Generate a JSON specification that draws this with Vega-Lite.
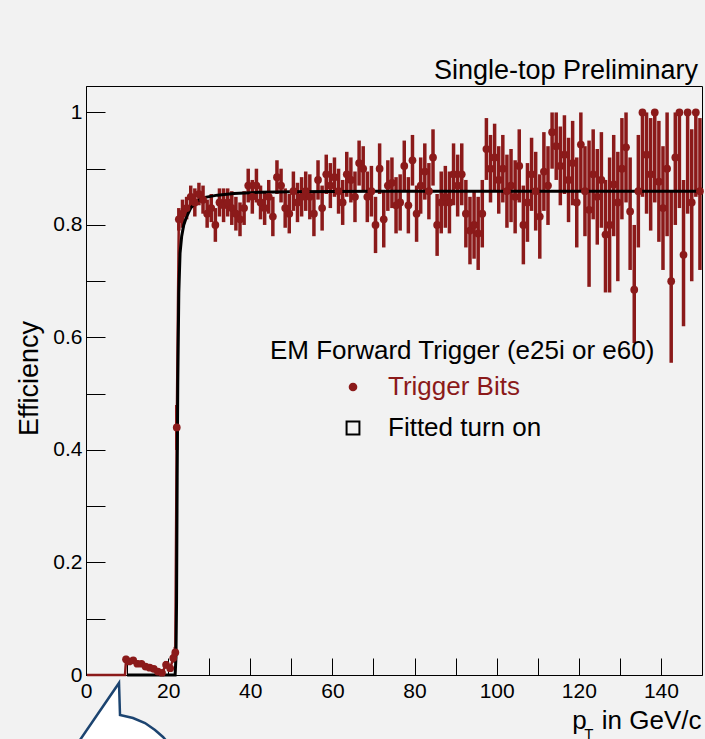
{
  "$schema": "https://vega.github.io/schema/vega-lite/v6.json",
  "width": 616,
  "height": 589,
  "autosize": {"type": "none"},
  "padding": {"left": 86, "top": 86, "right": 3, "bottom": 64},
  "background": "#f2f2f2",
  "config": {
    "font": "Liberation Sans",
    "view": {"stroke": "black", "strokeWidth": 1, "fill": "#f2f2f2"},
    "axis": {"grid": false, "domainColor": "black", "tickColor": "black", "tickWidth": 1, "labelColor": "black", "labelFont": "Liberation Sans", "labelFontSize": 21, "titleFont": "Liberation Sans", "titleFontWeight": "normal", "titleColor": "black", "labelOverlap": false, "labelBound": false}
  },
  "title": {"text": "Single-top Preliminary", "anchor": "end", "frame": "group", "fontSize": 27, "font": "Liberation Sans", "fontWeight": "normal", "color": "black", "offset": 1, "dx": -4},
  "datasets": {
    "eff": [
      {"x":0.25,"y":0,"lo":0,"hi":0},
      {"x":9.5,"y":0,"lo":0,"hi":0},
      {"x":9.75,"y":0.028,"lo":0.022,"hi":0.034},
      {"x":10.5,"y":0.024,"lo":0.018,"hi":0.03},
      {"x":11.5,"y":0.026,"lo":0.02,"hi":0.032},
      {"x":12.5,"y":0.02,"lo":0.015,"hi":0.026},
      {"x":13.5,"y":0.02,"lo":0.015,"hi":0.025},
      {"x":14.5,"y":0.015,"lo":0.01,"hi":0.02},
      {"x":15.5,"y":0.013,"lo":0.008,"hi":0.018},
      {"x":16.5,"y":0.011,"lo":0.006,"hi":0.016},
      {"x":17.5,"y":0.006,"lo":0.002,"hi":0.01},
      {"x":18.5,"y":0.004,"lo":0.0,"hi":0.009},
      {"x":19.5,"y":0.018,"lo":0.012,"hi":0.025},
      {"x":20.5,"y":0.012,"lo":0.006,"hi":0.018},
      {"x":21.25,"y":0.03,"lo":0.022,"hi":0.038},
      {"x":21.75,"y":0.04,"lo":0.03,"hi":0.05},
      {"x":22.1,"y":0.44,"lo":0.4,"hi":0.48},
      {"x":22.6,"y":0.81,"lo":0.79,"hi":0.83},
      {"x":23.5,"y":0.82,"lo":0.795,"hi":0.845},
      {"x":24.5,"y":0.83,"lo":0.81,"hi":0.85},
      {"x":25.5,"y":0.85,"lo":0.83,"hi":0.87},
      {"x":26.5,"y":0.84,"lo":0.815,"hi":0.865},
      {"x":27.5,"y":0.855,"lo":0.835,"hi":0.875},
      {"x":28.5,"y":0.845,"lo":0.82,"hi":0.87},
      {"x":29.5,"y":0.82,"lo":0.795,"hi":0.845},
      {"x":30.5,"y":0.83,"lo":0.805,"hi":0.855},
      {"x":31.5,"y":0.8,"lo":0.77,"hi":0.83},
      {"x":32.5,"y":0.84,"lo":0.815,"hi":0.865},
      {"x":33.5,"y":0.835,"lo":0.805,"hi":0.865},
      {"x":34.5,"y":0.84,"lo":0.815,"hi":0.865},
      {"x":35.5,"y":0.83,"lo":0.8,"hi":0.86},
      {"x":36.5,"y":0.82,"lo":0.79,"hi":0.85},
      {"x":37.5,"y":0.81,"lo":0.78,"hi":0.84},
      {"x":38.5,"y":0.83,"lo":0.8,"hi":0.86},
      {"x":39.5,"y":0.87,"lo":0.84,"hi":0.9},
      {"x":40.5,"y":0.85,"lo":0.82,"hi":0.88},
      {"x":41.5,"y":0.87,"lo":0.84,"hi":0.9},
      {"x":42.5,"y":0.84,"lo":0.81,"hi":0.87},
      {"x":43.5,"y":0.83,"lo":0.8,"hi":0.86},
      {"x":44.5,"y":0.85,"lo":0.82,"hi":0.88},
      {"x":45.5,"y":0.815,"lo":0.78,"hi":0.85},
      {"x":46.5,"y":0.885,"lo":0.855,"hi":0.915},
      {"x":47.5,"y":0.87,"lo":0.84,"hi":0.9},
      {"x":48.5,"y":0.83,"lo":0.795,"hi":0.865},
      {"x":49.5,"y":0.82,"lo":0.785,"hi":0.855},
      {"x":50.5,"y":0.86,"lo":0.825,"hi":0.895},
      {"x":51.5,"y":0.84,"lo":0.805,"hi":0.875},
      {"x":52.5,"y":0.85,"lo":0.815,"hi":0.885},
      {"x":53.5,"y":0.86,"lo":0.825,"hi":0.895},
      {"x":54.5,"y":0.85,"lo":0.81,"hi":0.89},
      {"x":55.5,"y":0.82,"lo":0.78,"hi":0.86},
      {"x":56.5,"y":0.88,"lo":0.845,"hi":0.915},
      {"x":57.5,"y":0.83,"lo":0.79,"hi":0.87},
      {"x":58.5,"y":0.89,"lo":0.855,"hi":0.925},
      {"x":59.5,"y":0.87,"lo":0.83,"hi":0.91},
      {"x":60.5,"y":0.885,"lo":0.85,"hi":0.92},
      {"x":61.5,"y":0.86,"lo":0.82,"hi":0.9},
      {"x":62.5,"y":0.84,"lo":0.8,"hi":0.88},
      {"x":63.5,"y":0.89,"lo":0.85,"hi":0.93},
      {"x":64.5,"y":0.88,"lo":0.84,"hi":0.92},
      {"x":65.5,"y":0.85,"lo":0.805,"hi":0.895},
      {"x":66.5,"y":0.91,"lo":0.87,"hi":0.95},
      {"x":67.5,"y":0.9,"lo":0.86,"hi":0.94},
      {"x":68.5,"y":0.85,"lo":0.805,"hi":0.895},
      {"x":69.5,"y":0.86,"lo":0.815,"hi":0.905},
      {"x":70.5,"y":0.8,"lo":0.75,"hi":0.85},
      {"x":71.5,"y":0.9,"lo":0.855,"hi":0.945},
      {"x":72.5,"y":0.81,"lo":0.76,"hi":0.86},
      {"x":73.5,"y":0.87,"lo":0.825,"hi":0.915},
      {"x":74.5,"y":0.875,"lo":0.83,"hi":0.92},
      {"x":75.5,"y":0.835,"lo":0.785,"hi":0.885},
      {"x":76.5,"y":0.84,"lo":0.79,"hi":0.89},
      {"x":77.5,"y":0.905,"lo":0.86,"hi":0.95},
      {"x":78.5,"y":0.835,"lo":0.785,"hi":0.885},
      {"x":79.5,"y":0.915,"lo":0.87,"hi":0.96},
      {"x":80.5,"y":0.82,"lo":0.77,"hi":0.87},
      {"x":81.5,"y":0.87,"lo":0.82,"hi":0.92},
      {"x":82.5,"y":0.895,"lo":0.845,"hi":0.945},
      {"x":83.5,"y":0.86,"lo":0.81,"hi":0.91},
      {"x":84.5,"y":0.92,"lo":0.87,"hi":0.97},
      {"x":85.5,"y":0.8,"lo":0.745,"hi":0.855},
      {"x":86.5,"y":0.84,"lo":0.785,"hi":0.895},
      {"x":87.5,"y":0.85,"lo":0.795,"hi":0.905},
      {"x":88.5,"y":0.84,"lo":0.785,"hi":0.895},
      {"x":89.5,"y":0.89,"lo":0.835,"hi":0.945},
      {"x":90.5,"y":0.87,"lo":0.815,"hi":0.925},
      {"x":91.5,"y":0.89,"lo":0.835,"hi":0.945},
      {"x":92.5,"y":0.82,"lo":0.76,"hi":0.88},
      {"x":93.5,"y":0.79,"lo":0.73,"hi":0.85},
      {"x":94.5,"y":0.8,"lo":0.74,"hi":0.86},
      {"x":95.5,"y":0.785,"lo":0.72,"hi":0.85},
      {"x":96.5,"y":0.82,"lo":0.76,"hi":0.88},
      {"x":97.5,"y":0.935,"lo":0.88,"hi":0.99},
      {"x":98.5,"y":0.9,"lo":0.84,"hi":0.96},
      {"x":99.5,"y":0.92,"lo":0.86,"hi":0.98},
      {"x":100.5,"y":0.88,"lo":0.82,"hi":0.94},
      {"x":101.5,"y":0.9,"lo":0.84,"hi":0.96},
      {"x":102.5,"y":0.86,"lo":0.795,"hi":0.925},
      {"x":103.5,"y":0.87,"lo":0.805,"hi":0.935},
      {"x":104.5,"y":0.85,"lo":0.785,"hi":0.915},
      {"x":105.5,"y":0.905,"lo":0.84,"hi":0.97},
      {"x":106.5,"y":0.8,"lo":0.73,"hi":0.87},
      {"x":107.5,"y":0.84,"lo":0.77,"hi":0.91},
      {"x":108.5,"y":0.89,"lo":0.825,"hi":0.955},
      {"x":109.5,"y":0.86,"lo":0.79,"hi":0.93},
      {"x":110.5,"y":0.815,"lo":0.74,"hi":0.89},
      {"x":111.5,"y":0.895,"lo":0.825,"hi":0.965},
      {"x":112.5,"y":0.87,"lo":0.8,"hi":0.94},
      {"x":113.5,"y":0.965,"lo":0.9,"hi":1.0},
      {"x":114.5,"y":0.94,"lo":0.88,"hi":1.0},
      {"x":115.5,"y":0.905,"lo":0.835,"hi":0.975},
      {"x":116.5,"y":0.925,"lo":0.855,"hi":0.995},
      {"x":117.5,"y":0.88,"lo":0.805,"hi":0.955},
      {"x":118.5,"y":0.91,"lo":0.835,"hi":0.985},
      {"x":119.5,"y":0.84,"lo":0.76,"hi":0.92},
      {"x":120.5,"y":0.943,"lo":0.86,"hi":1.0},
      {"x":121.5,"y":0.86,"lo":0.78,"hi":0.94},
      {"x":122.5,"y":0.827,"lo":0.69,"hi":0.95},
      {"x":123.5,"y":0.89,"lo":0.81,"hi":0.97},
      {"x":124.5,"y":0.85,"lo":0.765,"hi":0.935},
      {"x":125.5,"y":0.88,"lo":0.795,"hi":0.965},
      {"x":126.5,"y":0.783,"lo":0.68,"hi":0.88},
      {"x":127.5,"y":0.8,"lo":0.68,"hi":0.92},
      {"x":128.5,"y":0.872,"lo":0.78,"hi":0.96},
      {"x":129.5,"y":0.84,"lo":0.7,"hi":0.93},
      {"x":130.5,"y":0.9,"lo":0.81,"hi":0.99},
      {"x":131.5,"y":0.938,"lo":0.84,"hi":1.0},
      {"x":132.5,"y":0.824,"lo":0.72,"hi":0.92},
      {"x":133.5,"y":0.685,"lo":0.59,"hi":0.8},
      {"x":134.5,"y":0.86,"lo":0.76,"hi":0.96},
      {"x":135.5,"y":1.0,"lo":0.85,"hi":1.0},
      {"x":136.5,"y":0.925,"lo":0.82,"hi":1.0},
      {"x":137.5,"y":0.89,"lo":0.79,"hi":0.99},
      {"x":138.5,"y":1.0,"lo":0.84,"hi":1.0},
      {"x":139.5,"y":0.877,"lo":0.77,"hi":0.985},
      {"x":140.5,"y":0.83,"lo":0.72,"hi":0.94},
      {"x":141.5,"y":0.9,"lo":0.78,"hi":1.0},
      {"x":142.5,"y":0.7,"lo":0.555,"hi":0.86},
      {"x":143.5,"y":0.92,"lo":0.8,"hi":1.0},
      {"x":144.5,"y":1.0,"lo":0.83,"hi":1.0},
      {"x":145.5,"y":0.747,"lo":0.62,"hi":0.88},
      {"x":146.5,"y":1.0,"lo":0.82,"hi":1.0},
      {"x":147.5,"y":0.84,"lo":0.7,"hi":0.97},
      {"x":148.5,"y":1.0,"lo":0.85,"hi":1.0},
      {"x":149.5,"y":0.86,"lo":0.72,"hi":0.99}
    ],
    "fit": [
      {"x":10,"y":0},{"x":21.7,"y":0},{"x":21.9,"y":0.03},{"x":22.05,"y":0.13},{"x":22.2,"y":0.35},{"x":22.35,"y":0.52},{"x":22.6,"y":0.68},{"x":22.9,"y":0.75},{"x":23.3,"y":0.78},{"x":23.8,"y":0.8},{"x":24.5,"y":0.815},{"x":25.5,"y":0.83},{"x":27,"y":0.842},{"x":29,"y":0.849},{"x":32,"y":0.853},{"x":36,"y":0.856},{"x":42,"y":0.858},{"x":50,"y":0.859},{"x":70,"y":0.86},{"x":150,"y":0.86}
    ],
    "bubble": [
      {"o":0,"x":-3.48,"y":-0.137},{"o":1,"x":8.04,"y":-0.0142},{"o":2,"x":8.28,"y":-0.0711},{"o":3,"x":11.44,"y":-0.0764},{"o":4,"x":14.37,"y":-0.0853},{"o":5,"x":16.8,"y":-0.0978},{"o":6,"x":18.75,"y":-0.1102},{"o":7,"x":20.45,"y":-0.1244},{"o":8,"x":20.94,"y":-0.137}
    ]
  },
  "encoding": {
    "x": {"type": "quantitative", "scale": {"domain": [0, 150], "nice": false, "zero": false}},
    "y": {"type": "quantitative", "scale": {"domain": [0, 1.047], "nice": false}}
  },
  "layer": [
    {
      "data": {"name": "eff"},
      "mark": {"type": "rule", "color": "#8b1a1a", "strokeWidth": 3.5},
      "encoding": {
        "x": {"field": "x", "type": "quantitative", "axis": {
          "values": [0,5,10,15,20,25,30,35,40,45,50,55,60,65,70,75,80,85,90,95,100,105,110,115,120,125,130,135,140,145],
          "labelExpr": "datum.value % 20 === 0 ? format(datum.value, 'd') : ''",
          "tickSize": -17, "labelPadding": 22, "labelFlush": false,
          "title": "p\u2002\u200ain GeV/c", "titleFontSize": 26, "titleAlign": "right", "titleAnchor": "end", "titleX": 615, "titleY": 53, "titleBaseline": "alphabetic",
          "encode": {"ticks": {"y2": {"value": {"expr": "datum.value % 20 === 0 ? -17 : -9"}}}}
        }},
        "y": {"field": "lo", "type": "quantitative", "axis": {
          "values": [0,0.05,0.1,0.15,0.2,0.25,0.3,0.35,0.4,0.45,0.5,0.55,0.6,0.65,0.7,0.75,0.8,0.85,0.9,0.95,1.0],
          "labelExpr": "round(datum.value*20) % 4 === 0 ? format(datum.value, '~g') : ''",
          "tickSize": -19, "labelPadding": 23,
          "title": "Efficiency", "titleFontSize": 27, "titleAngle": 270, "titleAlign": "center", "titleBaseline": "alphabetic", "titleX": -49, "titleY": 292,
          "encode": {
            "ticks": {"x2": {"value": {"expr": "round(datum.value*20) % 4 === 0 ? 19 : 10"}}},
            "labels": {"dx": {"value": {"expr": "datum.value === 0 ? -4 : 0"}}, "dy": {"value": {"expr": "datum.value === 0 ? 2 : 0"}}}
          }
        }},
        "y2": {"field": "hi"}
      }
    },
    {
      "data": {"name": "eff"},
      "transform": [{"filter": "datum.x < 23"}],
      "mark": {"type": "line", "color": "#8b1a1a", "strokeWidth": 2.5},
      "encoding": {
        "x": {"field": "x", "type": "quantitative"},
        "y": {"field": "y", "type": "quantitative"}
      }
    },
    {
      "data": {"name": "fit"},
      "mark": {"type": "line", "strokeWidth": 3, "color": "black"},
      "encoding": {
        "x": {"field": "x", "type": "quantitative"},
        "y": {"field": "y", "type": "quantitative"}
      }
    },
    {
      "data": {"name": "eff"},
      "transform": [{"filter": "datum.y > 0"}],
      "mark": {"type": "point", "filled": true, "size": 60, "opacity": 1},
      "encoding": {
        "x": {"field": "x", "type": "quantitative"},
        "y": {"field": "y", "type": "quantitative"},
        "color": {"datum": "Trigger Bits", "type": "nominal",
          "scale": {"domain": ["Trigger Bits", "Fitted turn on"], "range": ["#8b1a1a", "transparent"]},
          "legend": {
            "orient": "none", "legendX": 184, "legendY": 252, "padding": 0,
            "title": "EM Forward Trigger (e25i or e60)", "titleFont": "Liberation Sans", "titleFontSize": 26, "titleFontWeight": "normal", "titleColor": "black", "titlePadding": 10, "titleLimit": 1000,
            "labelFont": "Liberation Sans", "labelFontSize": 26, "labelLimit": 1000, "symbolOffset": 70, "labelOffset": 22, "rowPadding": 15,
            "symbolSize": {"expr": "datum.value === 'Fitted turn on' ? 165 : 75"},
            "labelColor": {"expr": "datum.value === 'Trigger Bits' ? '#8b1a1a' : 'black'"},
            "symbolType": {"expr": "datum.value === 'Trigger Bits' ? 'circle' : 'square'"},
            "symbolStrokeColor": {"expr": "datum.value === 'Trigger Bits' ? 'transparent' : 'black'"},
            "symbolStrokeWidth": 2,
            "symbolOpacity": 1
          }
        }
      }
    },
    {
      "data": {"name": "bubble"},
      "mark": {"type": "line", "stroke": "#1c4470", "fill": "white", "strokeWidth": 2.5, "clip": false},
      "encoding": {
        "x": {"field": "x", "type": "quantitative"},
        "y": {"field": "y", "type": "quantitative"},
        "order": {"field": "o"}
      }
    },
    {
      "data": {"values": [{}]},
      "mark": {"type": "text", "text": "T", "fontSize": 15, "align": "left", "baseline": "alphabetic", "font": "Liberation Sans", "color": "black"},
      "encoding": {
        "x": {"datum": 121.3},
        "y": {"datum": -0.1135}
      }
    }
  ]
}
